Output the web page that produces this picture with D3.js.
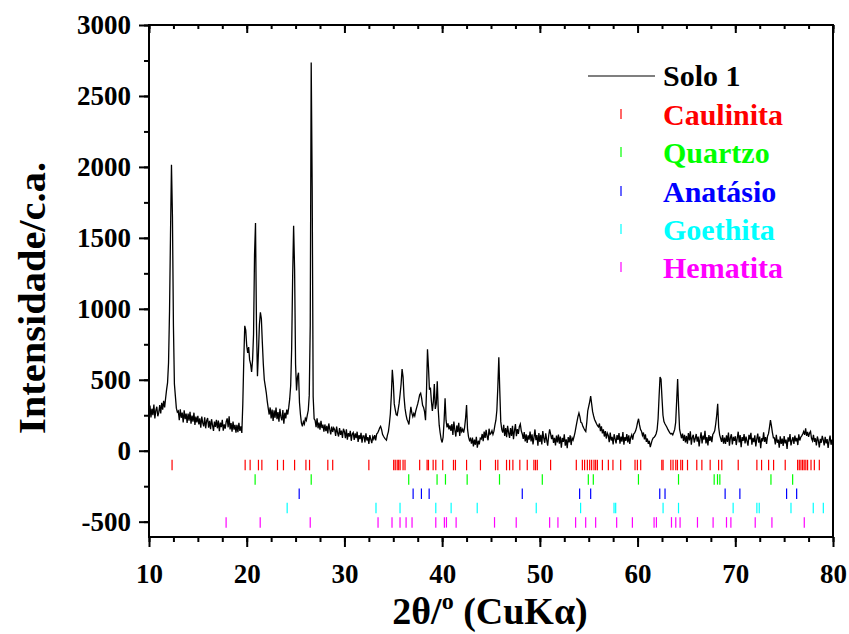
<!DOCTYPE html>
<html>
<head>
<meta charset="utf-8">
<script src="https://cdn.jsdelivr.net/npm/d3@7"></script>
<style>
  body { margin: 0; background: #fff; }
  svg { display: block; font-family: 'Liberation Serif', 'Times New Roman', serif; font-weight: bold; }
</style>
</head>
<body>
<svg class="chart" width="849" height="634"></svg>
<script>
// diffractogram, one value every 0.1 degree from 10 to 80
const twoThetaStart = 10;
const twoThetaStep = 0.1;
const intensity = [
  262, 318, 235, 296, 250, 325, 228, 284, 310, 243,
  270, 322, 262, 338, 290, 352, 305, 370, 430, 480,
  620, 980, 1520, 2015, 1650, 880, 470, 385, 300, 272,
  280, 215, 292, 232, 268, 200, 285, 222, 262, 196,
  262, 212, 275, 190, 248, 205, 268, 182, 240, 200,
  246, 185, 228, 162, 240, 196, 172, 236, 158, 212,
  230, 162, 210, 152, 222, 180, 140, 205, 168, 218,
  158, 212, 138, 198, 166, 218, 142, 185, 156, 205,
  228, 165, 242, 150, 195, 135, 205, 148, 183, 128,
  182, 130, 196, 140, 172, 125, 330, 640, 880, 850,
  740, 690, 730, 640, 610, 555, 640, 820, 1380, 1605,
  880, 525, 690, 890, 975, 930, 760, 610, 500, 455,
  410, 350, 300, 255, 305, 228, 290, 210, 285, 232,
  305, 222, 272, 205, 296, 238, 214, 286, 190, 268,
  228, 290, 255, 305, 365, 460, 720, 1220, 1585, 1280,
  610, 425, 520, 550, 340, 255, 195, 172, 205, 188,
  228, 214, 250, 285, 390, 880, 2735, 1860, 380, 225,
  214, 166, 228, 158, 198, 148, 210, 160, 184, 135,
  185, 138, 175, 122, 192, 150, 115, 170, 132, 162,
  150, 105, 170, 125, 100, 160, 112, 142, 90, 155,
  135, 88, 150, 78, 124, 100, 140, 70, 118, 128,
  76, 122, 88, 134, 62, 110, 82, 126, 56, 104,
  104, 58, 122, 72, 96, 48, 110, 80, 54, 100,
  82, 110, 72, 118, 125, 140, 160, 172, 150, 115,
  102, 90, 82, 75, 110, 135, 190, 260, 390, 570,
  480, 330, 290, 255, 250, 290, 335, 400, 470, 575,
  520, 380, 300, 255, 222, 205, 185, 250, 310, 265,
  240, 262, 245, 280, 305, 330, 360, 395, 405, 370,
  320, 305, 275, 215, 420, 715, 590, 430, 445, 350,
  280, 345, 470, 295, 330, 490, 290, 180, 125, 80,
  58, 95, 210, 370, 215, 165, 192, 150, 178, 140,
  188, 112, 205, 146, 100, 178, 130, 196, 104, 168,
  135, 152, 128, 165, 230, 322, 150, 98, 72, 85,
  50, 92, 30, 78, 42, 98, 22, 70, 45, 88,
  82, 118, 68, 135, 90, 148, 100, 74, 155, 115,
  122, 141, 115, 138, 180, 215, 285, 450, 658, 420,
  205, 150, 128, 182, 105, 160, 95, 175, 128, 90,
  160, 105, 175, 82, 140, 188, 102, 152, 118, 170,
  188, 140, 118, 84, 132, 66, 115, 55, 108, 78,
  135, 66, 115, 45, 94, 150, 75, 110, 35, 125,
  62, 112, 45, 138, 88, 56, 122, 76, 35, 104,
  150, 118, 82, 112, 55, 90, 38, 106, 58, 114,
  50, 100, 22, 90, 62, 115, 35, 80, 18, 96,
  58, 108, 40, 90, 75, 100, 130, 168, 205, 240,
  265, 238, 200, 195, 172, 158, 145, 135, 198, 280,
  312, 345, 385, 330, 275, 245, 220, 205, 190, 176,
  168, 192, 138, 172, 122, 150, 100, 138, 86, 125,
  108, 60, 128, 72, 98, 44, 116, 84, 52, 110,
  76, 124, 50, 100, 64, 132, 42, 96, 70, 118,
  58, 108, 48, 94, 112, 78, 118, 125, 140, 165,
  200, 225, 182, 150, 138, 108, 128, 80, 115, 62,
  86, 48, 70, 25, 52, 76, 90, 95, 104, 120,
  148, 225, 380, 520, 505, 370, 250, 205, 190, 178,
  165, 150, 138, 125, 118, 122, 112, 130, 150, 200,
  350, 505, 310, 150, 118, 88, 120, 70, 112, 58,
  104, 50, 124, 72, 136, 42, 94, 112, 58, 86,
  118, 64, 100, 30, 86, 130, 52, 106, 78, 140,
  52, 96, 38, 110, 70, 102, 60, 115, 125, 142,
  190, 250, 330, 165, 112, 88, 62, 110, 50, 92,
  48, 108, 62, 128, 36, 92, 116, 44, 98, 70,
  102, 40, 88, 134, 58, 110, 25, 96, 70, 118,
  52, 100, 68, 36, 112, 80, 126, 42, 90, 60,
  108, 30, 84, 120, 56, 100, 18, 88, 66, 130,
  62, 96, 48, 102, 120, 165, 215, 175, 128, 90,
  90, 44, 112, 56, 78, 22, 102, 48, 86, 34,
  104, 52, 78, 12, 94, 64, 118, 38, 72, 96,
  48, 106, 66, 90, 40, 115, 72, 95, 105, 118,
  135, 112, 158, 104, 132, 98, 125, 136, 88, 70,
  112, 62, 88, 38, 100, 72, 24, 84, 56, 104,
  76, 38, 98, 52, 82, 20, 70, 106, 42, 78,
  55
];

// reference peak positions (2theta) for each phase
const caulinita = [12.36, 19.84, 20.35, 21.2, 21.55, 23.15, 23.76, 24.9, 26.06, 26.43, 28.3, 28.8, 32.5,
  35.04, 35.2, 35.4, 35.55, 35.7, 36.0, 36.2, 37.7, 38.46, 38.6, 39.08, 39.35, 40.06, 41.16, 41.36, 42.5,
  43.92, 45.46, 45.7, 46.59, 46.9, 47.24, 47.95, 48.71, 49.39, 49.56, 49.74, 51.1, 53.73, 54.35, 54.58,
  54.86, 55.1, 55.3, 55.54, 55.71, 55.89, 56.4, 57.01, 57.48, 58.27, 59.74, 59.98, 60.32, 62.48, 62.61,
  63.4, 63.63, 63.91, 64.08, 64.42, 64.6, 65.11, 66.06, 66.58, 67.43, 68.29, 68.62, 70.3, 72.21, 72.69,
  73.41, 73.92, 75.11, 76.38, 76.55, 76.72, 76.89, 77.05, 77.22, 77.4, 77.75, 78.09, 78.6, 79.97];
const quartzo = [20.86, 26.6, 36.58, 39.48, 40.34, 42.56, 45.87, 50.25, 54.96, 55.47, 60.09, 64.19,
  67.84, 68.18, 68.42, 73.65, 75.87, 79.97];
const anatasio = [25.37, 37.03, 37.88, 38.67, 48.2, 54.07, 55.2, 62.27, 62.81, 68.96, 70.47, 75.25, 76.28];
const goethita = [24.14, 33.23, 35.69, 39.35, 40.92, 43.59, 49.63, 54.17, 57.59, 57.76, 62.61, 64.19,
  69.78, 72.21, 72.45, 75.7, 77.98, 79.01];
const hematita = [17.89, 21.38, 26.5, 33.44, 34.87, 35.69, 36.31, 36.92, 39.35, 40.23, 40.44, 41.43,
  45.36, 47.58, 51.0, 51.85, 53.66, 54.69, 55.71, 57.86, 59.47, 61.69, 61.93, 63.47, 63.91, 64.35,
  66.13, 67.73, 69.1, 69.55, 72.04, 73.75, 77.06];

const xTicks = [10, 20, 30, 40, 50, 60, 70, 80];
const yTicks = [-500, 0, 500, 1000, 1500, 2000, 2500, 3000];
const sampleName = 'Solo 1';
const phaseNames = ['Caulinita', 'Quartzo', 'Anatásio', 'Goethita', 'Hematita'];
const phasePeaks = [caulinita, quartzo, anatasio, goethita, hematita];
const phaseColors = ['#ff0000', '#00ff00', '#0000ff', '#00ffff', '#ff00ff'];

const svg = d3.select('.chart');
const x = d3.scaleLinear().domain([10, 80]).range([149, 833]);
const y = d3.scaleLinear().domain([-608, 3000]).range([537, 25]);
const font = 'Liberation Serif, Times New Roman, serif';

const points = intensity.map((v, i) => [twoThetaStart + i * twoThetaStep, v]);

// phase markers, one row per phase below zero
phasePeaks.forEach((peaks, i) => {
  const row = -(i + 1) * 101;
  svg.append('g')
    .selectAll('line')
    .data(peaks)
    .enter()
    .append('line')
    .attr('x1', (d) => x(d))
    .attr('x2', (d) => x(d))
    .attr('y1', y(row + 37))
    .attr('y2', y(row - 37))
    .attr('stroke', phaseColors[i])
    .attr('stroke-width', 1.2);
});

svg.append('path')
  .datum(points)
  .attr('fill', 'none')
  .attr('stroke', '#000')
  .attr('stroke-width', 1.3)
  .attr('d', d3.line().x((d) => x(d[0])).y((d) => y(d[1])));

// axes
const minorX = d3.range(10, 80.01, 2.5);
const minorY = d3.range(-500, 3000.1, 250);

const styleAxis = (g) => {
  g.select('.domain').remove();
  g.selectAll('.tick line').attr('stroke', '#000').attr('stroke-width', 2);
  g.selectAll('text')
    .attr('font-family', font)
    .attr('font-weight', 'bold')
    .attr('font-size', 27)
    .attr('fill', '#000');
};

svg.append('g')
  .attr('transform', 'translate(0,537)')
  .call(d3.axisBottom(x).tickValues(minorX).tickSize(5).tickFormat(''))
  .call(styleAxis);
svg.append('g')
  .attr('transform', 'translate(0,537)')
  .call(d3.axisBottom(x).tickValues(xTicks).tickSize(10).tickPadding(17).tickFormat((d) => String(d)))
  .call(styleAxis);

svg.append('g')
  .attr('transform', 'translate(149,0)')
  .call(d3.axisLeft(y).tickValues(minorY).tickSize(5).tickFormat(''))
  .call(styleAxis);
svg.append('g')
  .attr('transform', 'translate(149,0)')
  .call(d3.axisLeft(y).tickValues(yTicks).tickSize(10).tickPadding(8).tickFormat((d) => String(d)))
  .call(styleAxis);

// top axis, ticks pointing in
svg.append('g')
  .attr('transform', 'translate(0,25)')
  .call(d3.axisBottom(x).tickValues(minorX).tickSize(4).tickFormat(''))
  .call(styleAxis);
svg.append('g')
  .attr('transform', 'translate(0,25)')
  .call(d3.axisBottom(x).tickValues(xTicks).tickSize(8).tickFormat(''))
  .call(styleAxis);

svg.append('rect')
  .attr('x', 149)
  .attr('y', 25)
  .attr('width', 684)
  .attr('height', 512)
  .attr('fill', 'none')
  .attr('stroke', '#000')
  .attr('stroke-width', 2);

// titles
svg.append('text')
  .attr('transform', 'translate(45,298) rotate(-90)')
  .attr('text-anchor', 'middle')
  .attr('font-size', 37)
  .attr('textLength', 272)
  .attr('lengthAdjust', 'spacingAndGlyphs')
  .text('Intensidade/c.a.');

const xTitle = svg.append('text')
  .attr('x', 490)
  .attr('y', 624)
  .attr('text-anchor', 'middle')
  .attr('font-size', 38);
xTitle.append('tspan').text('2θ/');
xTitle.append('tspan').attr('font-size', 24).attr('dy', -15).text('o');
xTitle.append('tspan').attr('dy', 15).text(' (CuKα)');

// legend
const legend = svg.append('g').attr('font-size', 30);
legend.append('line')
  .attr('x1', 588).attr('x2', 655)
  .attr('y1', 76).attr('y2', 76)
  .attr('stroke', '#000')
  .attr('stroke-width', 1.2);
legend.append('text').attr('x', 663).attr('y', 86).attr('fill', '#000').text(sampleName);

const rowBase = [125, 163, 202, 240, 278];
phaseNames.forEach((name, i) => {
  legend.append('line')
    .attr('x1', 621).attr('x2', 621)
    .attr('y1', rowBase[i] - 16).attr('y2', rowBase[i] - 6)
    .attr('stroke', phaseColors[i])
    .attr('stroke-width', 1.2);
  legend.append('text')
    .attr('x', 663)
    .attr('y', rowBase[i])
    .attr('fill', phaseColors[i])
    .text(name);
});
</script>
</body>
</html>
